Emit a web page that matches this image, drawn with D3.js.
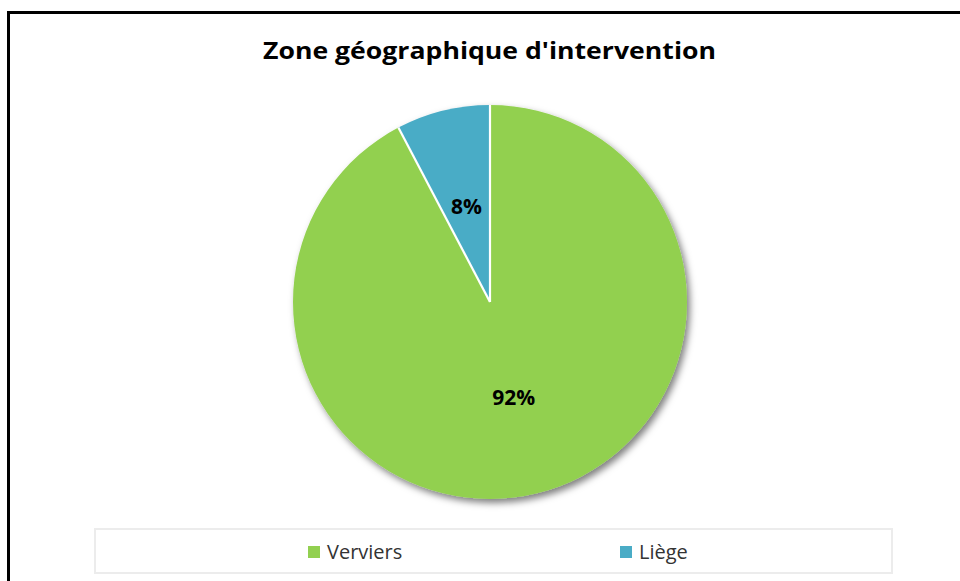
<!DOCTYPE html>
<html>
<head>
<meta charset="utf-8">
<script src="https://cdn.jsdelivr.net/npm/d3@7"></script>
<style>
  body { margin: 0; background: #fff; }
  svg { display: block; }
</style>
</head>
<body>
<div></div>
<script>
// data
var categories = ["Verviers", "Liège"];
var shares = [92.3, 7.7];
var colors = ["#92D050", "#4AACC6"];
var title = "Zone géographique d'intervention";

var width = 960, height = 581;
var cx = 490, cy = 302, radius = 197;
var font = "'Open Sans', Lato, sans-serif";

var svg = d3.select("body").select("div").append("svg")
    .attr("width", width)
    .attr("height", height);

// shadow filter for the pie
var defs = svg.append("defs");
var f = defs.append("filter").attr("id", "shadow")
    .attr("x", "-10%").attr("y", "-10%").attr("width", "130%").attr("height", "130%");
f.append("feDropShadow")
    .attr("dx", 3).attr("dy", 4).attr("stdDeviation", 3.5)
    .attr("flood-color", "#000").attr("flood-opacity", 0.5);

// outer frame
svg.append("rect")
    .attr("x", 8.5).attr("y", 12.5)
    .attr("width", 1000).attr("height", 700)
    .attr("fill", "#fff")
    .attr("stroke", "#000").attr("stroke-width", 3);

// title
svg.append("text")
    .attr("x", 263).attr("y", 59)
    .style("font-family", font)
    .style("font-weight", "bold")
    .style("font-size", "23px")
    .attr("textLength", 453)
    .attr("lengthAdjust", "spacingAndGlyphs")
    .attr("fill", "#000")
    .text(title);

var data = categories.map(function(c, i) { return {name: c, value: shares[i], color: colors[i]}; });

var pie = d3.pie()
    .sort(null)
    .value(function(d) { return d.value; });

var arcs = pie(data);
var arc = d3.arc().innerRadius(0).outerRadius(radius);
var labelArc = d3.arc().innerRadius(radius * 0.5).outerRadius(radius * 0.5);

var g = svg.append("g")
    .attr("transform", "translate(" + cx + "," + cy + ")");

var slices = g.append("g").attr("filter", "url(#shadow)");
slices.selectAll("path")
    .data(arcs)
    .enter().append("path")
    .attr("d", arc)
    .attr("fill", function(d) { return d.data.color; });

// white separators between slices
g.selectAll("line.sep")
    .data(arcs)
    .enter().append("line")
    .attr("class", "sep")
    .attr("x1", 0).attr("y1", 0)
    .attr("x2", function(d) { return radius * Math.sin(d.startAngle); })
    .attr("y2", function(d) { return -radius * Math.cos(d.startAngle); })
    .attr("stroke", "#fff")
    .attr("stroke-width", 2.2);

g.selectAll("text.lbl")
    .data(arcs)
    .enter().append("text")
    .attr("class", "lbl")
    .attr("transform", function(d) { return "translate(" + labelArc.centroid(d) + ")"; })
    .attr("text-anchor", "middle")
    .attr("dy", "0.36em")
    .style("font-family", font)
    .style("font-weight", "bold")
    .style("font-size", "21px")
    .attr("fill", "#000")
    .text(function(d) { return Math.round(d.data.value) + "%"; });

// legend
svg.append("rect")
    .attr("x", 95).attr("y", 529)
    .attr("width", 797).attr("height", 44)
    .attr("fill", "#fff")
    .attr("stroke", "#ececec").attr("stroke-width", 2);

var legendX = [308, 620];
var leg = svg.selectAll("g.leg")
    .data(data)
    .enter().append("g")
    .attr("class", "leg")
    .attr("transform", function(d, i) { return "translate(" + legendX[i] + ",546)"; });

leg.append("rect")
    .attr("width", 12).attr("height", 12)
    .attr("fill", function(d) { return d.color; });

leg.append("text")
    .attr("x", 19).attr("y", 6)
    .attr("dy", "0.36em")
    .style("font-family", font)
    .style("font-size", "20px")
    .attr("fill", "#333")
    .text(function(d) { return d.name; });
</script>
</body>
</html>
